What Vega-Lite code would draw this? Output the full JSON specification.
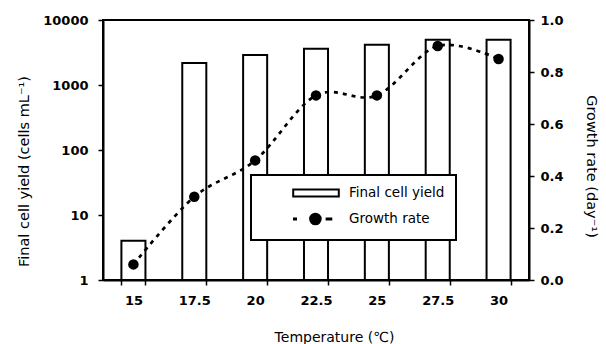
{
  "$schema": "https://vega.github.io/schema/vega-lite/v6.json",
  "width": 426,
  "height": 260,
  "autosize": "none",
  "padding": {"left": 103, "top": 20, "right": 77, "bottom": 64},
  "background": "white",
  "config": {
    "view": {"stroke": "black", "strokeWidth": 2},
    "font": "DejaVu Sans",
    "legend": {"strokeWidth": 2},
    "axis": {
      "grid": false,
      "domainColor": "black",
      "domainWidth": 2,
      "tickColor": "black",
      "tickWidth": 1.5,
      "tickSize": 5,
      "labelFont": "DejaVu Sans",
      "labelFontWeight": "bold",
      "labelFontSize": 13,
      "labelColor": "black",
      "titleFont": "DejaVu Sans",
      "titleFontWeight": "normal",
      "titleColor": "black"
    }
  },
  "data": {
    "values": [
      {"temp": 15, "yield": 4, "rate": 0.06},
      {"temp": 17.5, "yield": 2180, "rate": 0.32},
      {"temp": 20, "yield": 2900, "rate": 0.46},
      {"temp": 22.5, "yield": 3600, "rate": 0.71},
      {"temp": 25, "yield": 4150, "rate": 0.71},
      {"temp": 27.5, "yield": 4950, "rate": 0.90},
      {"temp": 30, "yield": 4950, "rate": 0.85}
    ]
  },
  "encoding": {
    "x": {
      "field": "temp",
      "type": "ordinal",
      "sort": "ascending",
      "scale": {"paddingInner": 0.605, "paddingOuter": 0.3025},
      "axis": {
        "title": "Temperature (℃)",
        "labelAngle": 0,
        "labelPadding": 9,
        "tickBand": "extent",
        "titleFontSize": 14,
        "titleX": 231,
        "titleY": 61,
        "titleBaseline": "alphabetic",
        "titleAnchor": null
      }
    }
  },
  "layer": [
    {
      "mark": {"type": "bar", "stroke": "black", "strokeWidth": 2, "opacity": 1},
      "encoding": {
        "y": {
          "field": "yield",
          "type": "quantitative",
          "scale": {"type": "log", "domain": [1, 10000], "nice": false},
          "axis": {
            "orient": "left",
            "values": [1, 10, 100, 1000, 10000],
            "format": "d",
            "labelPadding": 10,
            "title": "Final cell yield (cells mL⁻¹)",
            "titleFontSize": 14.5,
            "titleAngle": -90,
            "titleAlign": "center",
            "titleBaseline": "middle",
            "titleX": -79,
            "titleY": 151
          }
        },
        "y2": {"datum": 1},
        "fill": {
          "datum": "Final cell yield",
          "type": "nominal",
          "scale": {"domain": ["Final cell yield", "Growth rate"], "range": ["white", "black"]},
          "legend": {
            "title": null,
            "orient": "none",
            "legendX": 148,
            "legendY": 155,
            "fillColor": "white",
            "strokeColor": "black",
            "padding": 11,
            "symbolSize": 144,
            "symbolStrokeWidth": 2,
            "symbolStrokeColor": "black",
            "symbolOpacity": 1,
            "symbolType": {"expr": "datum.value === 'Growth rate' ? 'M-3.67,-0.08H-3.33V0.08H-3.67Z M-0.98,0A0.88,0.88 0 1,0 0.78,0A0.88,0.88 0 1,0 -0.98,0Z M1.77,-0.08H2.55V0.08H1.77Z' : 'M-3.8,-0.58H3.8V0.58H-3.8Z'"},
            "symbolOffset": 47,
            "labelOffset": 26,
            "rowPadding": 8,
            "labelFont": "DejaVu Sans",
            "labelFontSize": 13.5,
            "labelColor": "black"
          }
        }
      }
    },
    {
      "encoding": {
        "y": {
          "field": "rate",
          "type": "quantitative",
          "scale": {"domain": [0, 1], "nice": false, "zero": true},
          "axis": {
            "orient": "right",
            "values": [0, 0.2, 0.4, 0.6, 0.8, 1],
            "format": ".1f",
            "labelPadding": 6,
            "title": "Growth rate (day⁻¹)",
            "titleFontSize": 14.5,
            "titleAngle": 90,
            "titleAlign": "center",
            "titleBaseline": "middle",
            "titleX": 61,
            "titleY": 146
          }
        }
      },
      "layer": [
        {
          "mark": {
            "type": "line",
            "color": "black",
            "strokeWidth": 2.7,
            "strokeDash": [4, 5],
            "interpolate": "cardinal"
          },
          "encoding": {}
        },
        {
          "mark": {"type": "point", "filled": true, "size": 110, "opacity": 1, "strokeWidth": 0},
          "encoding": {
            "fill": {
              "datum": "Growth rate",
              "type": "nominal",
              "legend": {
                "title": null,
                "orient": "none",
                "legendX": 148,
                "legendY": 155,
                "fillColor": "white",
                "strokeColor": "black",
                "padding": 11,
                "symbolSize": 144,
                "symbolStrokeWidth": 2,
                "symbolStrokeColor": "black",
                "symbolOpacity": 1,
                "symbolType": {"expr": "datum.value === 'Growth rate' ? 'M-3.67,-0.08H-3.33V0.08H-3.67Z M-0.98,0A0.88,0.88 0 1,0 0.78,0A0.88,0.88 0 1,0 -0.98,0Z M1.77,-0.08H2.55V0.08H1.77Z' : 'M-3.8,-0.58H3.8V0.58H-3.8Z'"},
                "symbolOffset": 47,
                "labelOffset": 26,
                "rowPadding": 8,
                "labelFont": "DejaVu Sans",
                "labelFontSize": 13.5,
                "labelColor": "black"
              }
            }
          }
        }
      ]
    }
  ],
  "resolve": {"scale": {"y": "independent"}}
}
